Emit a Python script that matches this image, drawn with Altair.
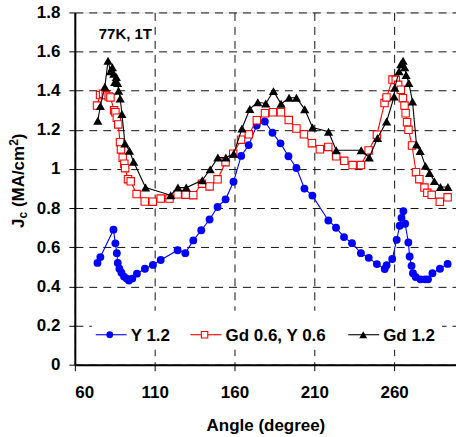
import altair as alt
import pandas as pd

# ---------------- data ----------------
y12_angle = [74.2, 76.0, 84.2, 85.4, 86.3, 86.9, 87.9, 89.2, 90.8, 92.5, 93.9, 96.0, 98.9,
             103.9, 108.9, 113.8, 124.4, 129.2, 134.2, 139.2, 144.4, 149.4, 154.4, 159.4,
             164.2, 168.9, 173.9, 179.0, 183.8, 188.8, 193.8, 198.8, 203.8, 208.8, 218.8,
             223.6, 228.6, 233.6, 239.2, 244.1, 249.2, 254.1, 255.3, 258.8, 261.6, 263.5,
             264.6, 265.8, 266.9, 268.9, 269.7, 270.9, 271.8, 273.5, 276.5, 279.4, 281.2,
             284.0, 288.7, 293.5]
y12_val = [0.52, 0.55, 0.69, 0.62, 0.57, 0.52, 0.49, 0.47, 0.45, 0.44, 0.43, 0.44, 0.465,
           0.49, 0.51, 0.535, 0.585, 0.57, 0.635, 0.687, 0.742, 0.806, 0.845, 0.935,
           1.067, 1.122, 1.222, 1.243, 1.185, 1.131, 1.065, 1.005, 0.90, 0.864, 0.737,
           0.70, 0.652, 0.621, 0.57, 0.546, 0.514, 0.489, 0.508, 0.54, 0.638, 0.71,
           0.75, 0.785, 0.72, 0.625, 0.553, 0.505, 0.467, 0.448, 0.436, 0.436, 0.436,
           0.467, 0.49, 0.515]

gdy_angle = [73.9, 75.8, 77.7, 79.4, 81.2, 82.3, 84.6, 85.4, 86.3, 87.2, 88.3, 88.9, 90.0,
             91.0, 91.5, 93.3, 95.0, 98.7, 103.8, 108.8, 113.8, 119.3, 124.4, 129.4, 134.2,
             139.6, 144.4, 149.4, 154.4, 159.2, 164.1, 169.0, 174.0, 179.1, 184.1, 189.1,
             194.0, 198.8, 203.5, 208.5, 213.5, 218.75, 223.7, 228.75, 234.0, 239.2, 244.0,
             249.2, 254.0, 255.2, 259.0, 261.0, 262.5, 264.2, 265.5, 266.5, 267.2, 268.1,
             269.0, 271.2, 273.7, 275.8, 279.0, 280.8, 283.5, 288.6, 293.5]
gdy_val = [1.324, 1.378, 1.385, 1.378, 1.371, 1.366, 1.30, 1.29, 1.262, 1.228, 1.137, 1.10,
           1.058, 1.027, 1.004, 0.948, 0.937, 0.872, 0.834, 0.833, 0.849, 0.849, 0.871,
           0.869, 0.866, 0.925, 0.911, 0.947, 1.035, 1.078, 1.15, 1.177, 1.249, 1.285,
           1.29, 1.29, 1.25, 1.207, 1.177, 1.132, 1.101, 1.113, 1.065, 1.042, 1.02, 1.02,
           1.095, 1.175, 1.337, 1.366, 1.457, 1.455, 1.43, 1.405, 1.362, 1.324, 1.285,
           1.239, 1.20, 1.12, 0.984, 0.948, 0.905, 0.878, 0.868, 0.832, 0.855]

gd12_angle = [74.4, 76.0, 78.8, 80.8, 82.3, 83.5, 84.4, 85.0, 86.0, 86.8, 87.4, 88.4, 89.5,
              91.4, 94.2, 96.8, 104.3, 120.0, 124.6, 129.8, 139.8, 144.8, 149.6, 154.6,
              159.5, 164.7, 169.6, 174.6, 179.6, 184.4, 189.2, 194.2, 198.8, 204.0, 208.9,
              218.9, 223.7, 239.4, 244.4, 249.6, 255.3, 260.0, 260.4, 263.1, 264.2, 265.6,
              266.6, 267.5, 269.2, 271.5, 274.0, 276.3, 279.6, 282.2, 285.2, 289.0, 293.7]
gd12_val = [1.247, 1.322, 1.42, 1.553, 1.50, 1.52, 1.487, 1.445, 1.47, 1.44, 1.40, 1.36,
            1.281, 1.13, 1.093, 1.037, 0.905, 0.866, 0.905, 0.905, 0.942, 0.998, 1.059,
            1.059, 1.078, 1.207, 1.307, 1.341, 1.335, 1.398, 1.333, 1.364, 1.364, 1.305,
            1.212, 1.19, 1.096, 1.096, 1.059, 1.158, 1.243, 1.37, 1.415, 1.50, 1.535,
            1.553, 1.52, 1.48, 1.44, 1.345, 1.125, 1.092, 1.016, 0.98, 0.938, 0.908, 0.908]

series_names = ["Y 1.2", "Gd 0.6, Y 0.6", "Gd 1.2"]
x_ticks = [60, 110, 160, 210, 260]
y_ticks = [0, 0.2, 0.4, 0.6, 0.8, 1.0, 1.2, 1.4, 1.6, 1.8]
annotation = "77K, 1T"

# ---------------- styling ----------------
FONT = "Liberation Sans"
W, H = 382, 353
BLUE, RED, BLACK = "#0000FF", "#FF0000", "#000000"

xscale = alt.Scale(domain=[60, 298.75], nice=False, zero=False)
yscale = alt.Scale(domain=[0, 1.8], nice=False, zero=True)

xaxis = alt.Axis(values=x_ticks, title="Angle (degree)", labelFont=FONT, labelFontSize=17,
                 labelFontWeight="bold", labelColor="black", labelPadding=14,
                 titleFont=FONT, titleFontSize=17, titleFontWeight="bold", titleColor="black",
                 titleBaseline="alphabetic", titleY=66,
                 tickSize=6, tickColor="black", tickWidth=1,
                 domainColor="black", domainWidth=2,
                 grid=True, gridColor="#111111", gridDash=[8, 6], gridWidth=1)
yaxis = alt.Axis(values=y_ticks, title=None, format="~g", labelFont=FONT, labelFontSize=17,
                 labelFontWeight="bold", labelColor="black", labelPadding=9,
                 tickSize=6, tickColor="black", tickWidth=1,
                 domainColor="black", domainWidth=2,
                 grid=True, gridColor="#111111", gridDash=[8, 6], gridWidth=1)


def series_layers(angles, vals, color, point_mark):
    df = pd.DataFrame({"angle": angles, "val": vals, "i": list(range(len(angles)))})
    base = alt.Chart(df).encode(
        x=alt.X("angle:Q", scale=xscale, axis=xaxis),
        y=alt.Y("val:Q", scale=yscale, axis=yaxis),
        order=alt.Order("i:Q"),
    )
    line = base.mark_line(color=color, strokeWidth=1.1)
    pts = base.mark_point(**point_mark)
    return [line, pts]


blue_pt = dict(shape="circle", filled=True, color=BLUE, size=62, opacity=1)
red_pt = dict(shape="square", filled=True, fill="white", stroke=RED, strokeWidth=1.1, size=55, opacity=1)
black_pt = dict(shape="triangle-up", filled=True, color=BLACK, size=85, opacity=1)

layers = []
layers += series_layers(y12_angle, y12_val, BLUE, blue_pt)
layers += series_layers(gdy_angle, gdy_val, RED, red_pt)
layers += series_layers(gd12_angle, gd12_val, BLACK, black_pt)

one = pd.DataFrame({"a": [0]})

# annotation
layers.append(alt.Chart(one).mark_text(text=annotation, font=FONT, fontSize=15, fontWeight="bold",
                                       align="left", baseline="alphabetic", color="black")
              .encode(x=alt.value(24), y=alt.value(26.5)))

# y-axis title built from pieces (J subscript c, cm superscript 2)
ytitle_parts = [
    ("J", -51, 216, 17),
    ("c", -48, 206.5, 12),
    ("(MA/cm", -51, 195.1, 17),
    ("2", -56.5, 133.7, 12),
    (")", -51, 127, 17),
]
for txt, px, py, fs in ytitle_parts:
    layers.append(alt.Chart(one).mark_text(text=txt, font=FONT, fontSize=fs, fontWeight="bold",
                                           angle=270, align="left", baseline="alphabetic",
                                           color="black")
                  .encode(x=alt.value(px), y=alt.value(py)))

# legend box
layers.append(alt.Chart(one).mark_rect(fill="white")
              .encode(x=alt.value(17), x2=alt.value(368), y=alt.value(299), y2=alt.value(338)))

legend_items = [
    (series_names[0], BLUE, 21, 52, 35, blue_pt, 56),
    (series_names[1], RED, 116, 147, 130, red_pt, 151),
    (series_names[2], BLACK, 274, 305, 289, black_pt, 309),
]
LY = 323
for name, col, x1, x2, xm, pm, xt in legend_items:
    layers.append(alt.Chart(one).mark_rule(color=col, strokeWidth=1.1)
                  .encode(x=alt.value(x1), x2=alt.value(x2), y=alt.value(LY)))
    pm2 = dict(pm)
    pm2["size"] = pm["size"] * 0.75
    layers.append(alt.Chart(one).mark_point(**pm2).encode(x=alt.value(xm), y=alt.value(LY)))
    layers.append(alt.Chart(one).mark_text(text=name, font=FONT, fontSize=17, fontWeight="bold",
                                           align="left", baseline="middle", color="black")
                  .encode(x=alt.value(xt), y=alt.value(LY + 1)))

chart = alt.layer(*layers).properties(
    width=W, height=H,
    autosize=alt.AutoSizeParams(type="none"),
    padding={"left": 75, "top": 12, "right": 0, "bottom": 72},
    background="white",
).configure_view(stroke="black", strokeWidth=1).configure(font=FONT)

chart.save("out.html", embed_options={"renderer": "svg", "actions": False})
